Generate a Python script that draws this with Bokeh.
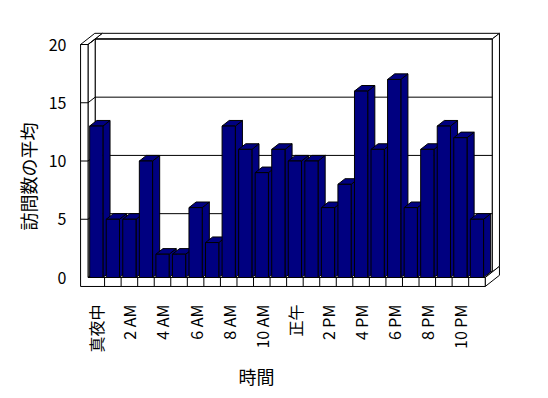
from math import pi
from bokeh.plotting import figure
from bokeh.models import Range1d, FixedTicker, Title
from bokeh.embed import file_html
from bokeh.resources import INLINE

# ---- data ----
hours = list(range(24))
visits = [13, 5, 5, 10, 2, 2, 6, 3, 13, 11, 9, 11, 10, 10, 6, 8, 16, 11, 17, 6, 11, 13, 12, 5]
tick_hours = [0, 2, 4, 6, 8, 10, 12, 14, 16, 18, 20, 22]
tick_labels = ["真夜中", "2 AM", "4 AM", "6 AM", "8 AM", "10 AM", "正午",
               "2 PM", "4 PM", "6 PM", "8 PM", "10 PM"]
y_ticks = [0, 5, 10, 15, 20]
x_title = "時間"
y_title = "訪問数の平均"

# ---- 3D geometry (data units) ----
FONT = "Noto Sans CJK JP"
NAVY = "#000080"
X0, X1 = hours[0] - 0.5, hours[-1] + 0.5
YMAX = y_ticks[-1]
WT, FT = 0.45, 0.77      # wall / floor thickness
DX, DY = 0.43, 0.48      # depth offset
BW = 0.8                 # bar width

p = figure(frame_width=422, frame_height=256,
           min_border_left=78, min_border_right=40,
           min_border_top=31, min_border_bottom=103,
           x_range=Range1d(-1.0755, 24.423), y_range=Range1d(-0.858, 21.116),
           output_backend="svg", toolbar_location=None)
p.outline_line_color = None
p.grid.visible = False
p.background_fill_color = "white"
p.border_fill_color = "white"

# walls and floor
wall_xs = [
    [X0 + DX, X1 + DX, X1 + DX, X0 + DX],                         # back wall face
    [X0 + DX, X1 + DX, X1 + 2 * DX, X0 + 2 * DX],                 # back wall top strip
    [X1 + DX, X1 + DX, X1 + 2 * DX, X1 + 2 * DX],                 # back wall right strip
    [X0, X0 + DX, X0 + DX, X0],                                   # left wall inner face
    [X0, X1, X1 + DX, X0 + DX],                                   # floor top
    [X1, X1 + 2 * DX, X1 + 2 * DX, X1 + DX, X1],                  # floor right side
    [X0 - WT, X1, X1, X0, X0, X0 - WT],                           # front L face
    [X0 - WT, X0, X0 + 2 * DX, X0 - WT + 2 * DX],                 # left wall top
]
wall_ys = [
    [DY, DY, YMAX + DY, YMAX + DY],
    [YMAX + DY, YMAX + DY, YMAX + 2 * DY, YMAX + 2 * DY],
    [DY, YMAX + DY, YMAX + 2 * DY, 2 * DY],
    [0, DY, YMAX + DY, YMAX],
    [0, 0, DY, DY],
    [-FT, -FT + 2 * DY, 2 * DY, DY, 0],
    [-FT, -FT, 0, 0, YMAX, YMAX],
    [YMAX, YMAX, YMAX + 2 * DY, YMAX + 2 * DY],
]
p.patches(wall_xs, wall_ys, fill_color="white", line_color="black", line_width=1)

# gridlines
gx, gy = [], []
for v in y_ticks[1:]:
    gx.append([X0 - WT, X0, X0 + DX, X1 + DX])
    gy.append([v, v, v + DY, v + DY])
p.multi_line(gx, gy, line_color="black", line_width=1)

# category separators on the floor front
seps = [h + 0.5 for h in hours[:-1]]
p.segment(x0=seps, y0=[-FT] * len(seps), x1=seps, y1=[0] * len(seps),
          line_color="black", line_width=1)

# bar sides and tops
bxs, bys = [], []
for h, v in zip(hours, visits):
    l, r = h - BW / 2, h + BW / 2
    bxs.append([r, r + DX, r + DX, r])
    bys.append([0, DY, v + DY, v])
    bxs.append([l, r, r + DX, l + DX])
    bys.append([v, v, v + DY, v + DY])
p.patches(bxs, bys, fill_color=NAVY, line_color="black", line_width=1)

# bar fronts
p.vbar(x=hours, top=visits, bottom=0, width=BW, fill_color=NAVY, line_color="black", line_width=1)

# axes
p.xaxis.ticker = FixedTicker(ticks=tick_hours)
p.xaxis.major_label_overrides = {h: t for h, t in zip(tick_hours, tick_labels)}
p.xaxis.major_label_orientation = pi / 2
p.xaxis.major_label_standoff = 11
p.yaxis.ticker = FixedTicker(ticks=y_ticks)
p.yaxis.major_label_standoff = 6
for ax in (p.xaxis, p.yaxis):
    ax.axis_line_color = None
    ax.major_tick_line_color = None
    ax.minor_tick_line_color = None
    ax.major_label_text_font = FONT
    ax.major_label_text_font_size = "16px"
    ax.major_label_text_color = "black"

p.add_layout(Title(text=y_title, align="left", offset=57, text_font=FONT,
                   text_font_size="18px", text_font_style="normal",
                   text_color="black"), "left")
p.add_layout(Title(text=x_title, align="left", offset=160, text_font=FONT,
                   text_font_size="18px", text_font_style="normal",
                   text_color="black"), "below")

open("out.html", "w").write(file_html(p, INLINE))
